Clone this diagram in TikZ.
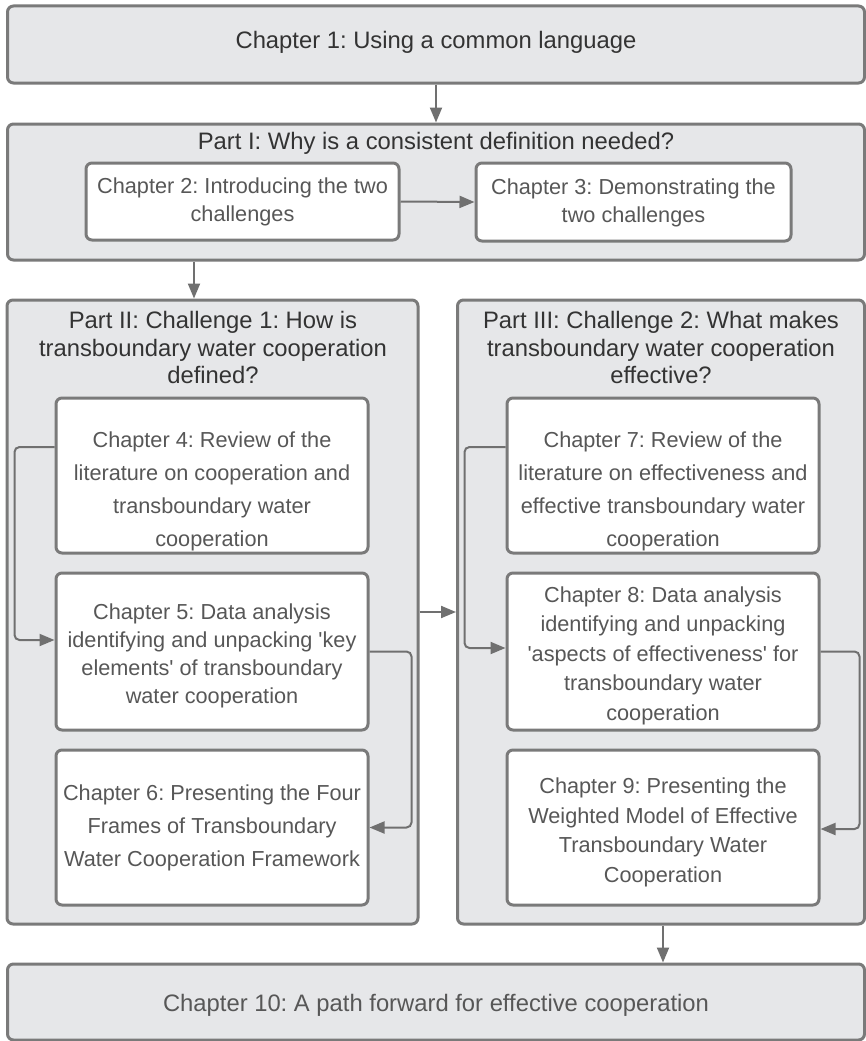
\documentclass[tikz,border=0pt]{standalone}
\usepackage{fontspec}
\setmainfont{Liberation Sans}
\usetikzlibrary{arrows.meta,calc}
\definecolor{outerfill}{HTML}{E6E7E9}
\definecolor{bordergray}{HTML}{7A7A7A}
\definecolor{linegray}{HTML}{707070}
\definecolor{darktext}{HTML}{333333}
\definecolor{graytext}{HTML}{575757}
\frenchspacing
\tikzset{
  outerbox/.style={draw=bordergray, line width=3pt, fill=outerfill, rounded corners=6pt, inner sep=0pt},
  chapbox/.style={draw=bordergray, line width=3pt, fill=white, rounded corners=6pt, inner sep=0pt},
  chaptext/.style={inner sep=0pt, align=center, text=graytext, font=\frenchspacing\fontsize{21.7}{28}\selectfont},
  wide/.style={font=\frenchspacing\fontsize{21.7}{33}\selectfont},
  mid/.style={font=\frenchspacing\fontsize{21.7}{29.5}\selectfont},
  headtext/.style={inner sep=0pt, align=center, text=darktext, font=\frenchspacing\fontsize{23.8}{27.5}\selectfont},
  arr/.style={draw=linegray, line width=2pt, -{Triangle[length=15pt,width=12pt]}},
  routed/.style={arr, rounded corners=5pt}
}
\begin{document}
\begin{tikzpicture}[x=1pt,y=-1pt]
\useasboundingbox[fill=white] (0,0) rectangle (866,1041);
% outer boxes
\node[outerbox, minimum width=857pt, minimum height=77pt] (ch1) at (436,44.5) {};
\node[outerbox, minimum width=857pt, minimum height=136pt] (p1) at (436,192) {};
\node[outerbox, minimum width=411pt, minimum height=624pt] (p2) at (212.5,612) {};
\node[outerbox, minimum width=407pt, minimum height=624pt] (p3) at (661,612) {};
\node[outerbox, minimum width=857pt, minimum height=76pt] (ch10) at (436,1002) {};
% headings
\node[headtext] (ch1t) at ([yshift=2pt]ch1.center) {Chapter 1: Using a common language};
\node[headtext, text=graytext] (ch10t) at ([yshift=-3pt]ch10.center) {Chapter 10: A path forward for effective cooperation};
\node[headtext] (p1t) at (436,143) {Part I: Why is a consistent definition needed?};
\node[headtext] (p2t) at (213,347.5) {Part II: Challenge 1: How is\\transboundary water cooperation\\defined?};
\node[headtext] (p3t) at (661,347.5) {Part III: Challenge 2: What makes\\transboundary water cooperation\\effective?};
% chapter boxes
\node[chapbox, minimum width=313pt, minimum height=77pt] (ch2) at (242.5,201.5) {};
\node[chapbox, minimum width=315pt, minimum height=78pt] (ch3) at (633.5,202) {};
\node[chapbox, minimum width=312pt, minimum height=155pt] (ch4) at (212,475.5) {};
\node[chapbox, minimum width=312pt, minimum height=157pt] (ch5) at (212,651.5) {};
\node[chapbox, minimum width=312pt, minimum height=155pt] (ch6) at (212,827.5) {};
\node[chapbox, minimum width=312pt, minimum height=155pt] (ch7) at (663,475.5) {};
\node[chapbox, minimum width=312pt, minimum height=157pt] (ch8) at (663,651.5) {};
\node[chapbox, minimum width=312pt, minimum height=155pt] (ch9) at (663,827.5) {};
% chapter texts
\node[chaptext] (ch2t) at ([yshift=-0.5pt]ch2.center) {Chapter 2: Introducing the two\\challenges};
\node[chaptext] (ch3t) at ([yshift=-0.5pt]ch3.center) {Chapter 3: Demonstrating the\\two challenges};
\node[chaptext, wide] (ch4t) at ([yshift=-16pt]ch4.center) {Chapter 4: Review of the\\literature on cooperation and\\transboundary water\\cooperation};
\node[chaptext] (ch5t) at ([yshift=-4pt]ch5.center) {Chapter 5: Data analysis\\identifying and unpacking \textquotesingle key\\elements\textquotesingle\ of transboundary\\water cooperation};
\node[chaptext, wide] (ch6t) at (ch6.center) {Chapter 6: Presenting the Four\\Frames of Transboundary\\Water Cooperation Framework};
\node[chaptext, wide] (ch7t) at ([yshift=-16pt]ch7.center) {Chapter 7: Review of the\\literature on effectiveness and\\effective transboundary water\\cooperation};
\node[chaptext, mid] (ch8t) at ([yshift=-4pt]ch8.center) {Chapter 8: Data analysis\\identifying and unpacking\\\textquotesingle aspects of effectiveness\textquotesingle\ for\\transboundary water\\cooperation};
\node[chaptext, mid] (ch9t) at ([yshift=-5pt]ch9.center) {Chapter 9: Presenting the\\Weighted Model of Effective\\Transboundary Water\\Cooperation};
% connectors
\coordinate (xa) at (194,0);
\draw[arr] (ch1.south) -- (p1.north);
\draw[arr] (ch2.east) -- (ch3.west);
\draw[arr] (p1.south -| xa) -- (p2.north -| xa);
\draw[arr] (p2.east) -- (p3.west);
\draw[arr] (p3.south -| ch9.south) -- (ch10.north -| ch9.south);
\draw[routed] ([yshift=28.5pt]ch4.west) -- ++(-40,0) |- ([yshift=11.5pt]ch5.west);
\draw[routed] (ch5.east) -- ++(42,0) |- (ch6.east);
\draw[routed] ([yshift=28.5pt]ch7.west) -- ++(-41,0) |- ([yshift=3.5pt]ch8.west);
\draw[routed] (ch8.east) -- ++(39,0) |- ([yshift=-1.5pt]ch9.east);
\end{tikzpicture}
\end{document}
